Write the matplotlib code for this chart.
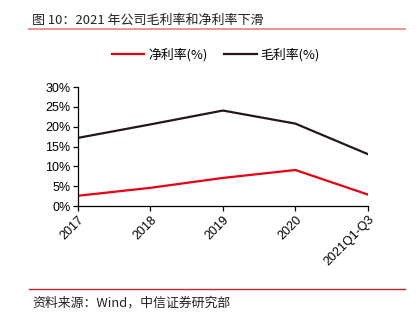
import matplotlib
matplotlib.use("Agg")
import matplotlib.pyplot as plt
from matplotlib.lines import Line2D

plt.rcParams['font.family'] = ['Liberation Sans', 'Noto Sans CJK SC', 'DejaVu Sans']

# data
years = ['2017', '2018', '2019', '2020', '2021Q1-Q3']
net_margin = [2.6, 4.6, 7.1, 9.1, 2.9]
gross_margin = [17.2, 20.6, 24.1, 20.8, 13.1]

fig = plt.figure(figsize=(4.19, 3.24), dpi=100)
ax = fig.add_axes([0.186, 0.364, 0.692, 0.367])

x = range(len(years))
ax.plot(x, net_margin, color='#E60012', lw=1.6, label='净利率(%)')
ax.plot(x, gross_margin, color='#231815', lw=1.6, label='毛利率(%)')

ax.set_xlim(0, len(years) - 1)
ax.set_ylim(0, 30)
ax.set_yticks(range(0, 31, 5))
ax.set_yticklabels([f'{v}%' for v in range(0, 31, 5)])
ax.set_xticks(list(x))
ax.set_xticklabels(years, rotation=45, ha='right', rotation_mode='anchor')
ax.tick_params(axis='both', labelsize=9, length=3.5, width=0.9, direction='out', pad=2)
for s in ['top', 'right']:
    ax.spines[s].set_visible(False)
for s in ['left', 'bottom']:
    ax.spines[s].set_linewidth(0.9)

ax.legend(loc='center', bbox_to_anchor=(0.476, 1.27), ncol=2, frameon=False,
          handlelength=2.5, columnspacing=1.3, handletextpad=0.3,
          prop={'family': ['Noto Sans CJK SC', 'DejaVu Sans'], 'size': 9.3})

# title, rules and source
fig.text(0.076, 0.938, '图 10：2021 年公司毛利率和净利率下滑', fontsize=9.4,
         family=['Noto Sans CJK SC', 'DejaVu Sans'], va='center', color='#222222')
fig.add_artist(Line2D([0.069, 0.967], [0.910, 0.910], color='#E88A8A', lw=1.3))
fig.add_artist(Line2D([0.069, 0.967], [0.108, 0.108], color='#C0262B', lw=1.0))
fig.text(0.076, 0.065, '资料来源：Wind，中信证券研究部', fontsize=9.3,
         family=['Noto Sans CJK SC', 'DejaVu Sans'], va='center', color='#222222')

fig.savefig('out.png', dpi=100)
